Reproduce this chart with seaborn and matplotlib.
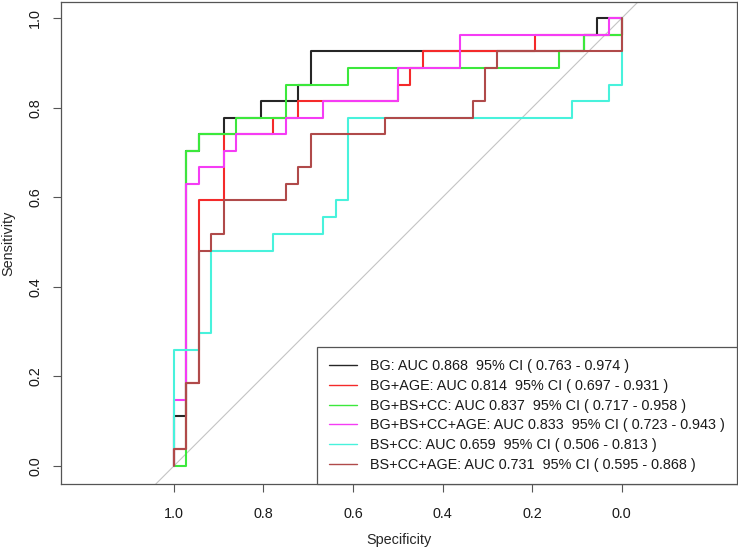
import numpy as np
import pandas as pd
import matplotlib
matplotlib.use("Agg")
import matplotlib.pyplot as plt
import seaborn as sns

# ---- data (specificity, sensitivity vertices) ----
models = ["BG", "BG+AGE", "BG+BS+CC", "BG+BS+CC+AGE", "BS+CC", "BS+CC+AGE"]
auc = [0.868, 0.814, 0.837, 0.833, 0.659, 0.731]
ci_low = [0.763, 0.697, 0.717, 0.723, 0.506, 0.595]
ci_high = [0.974, 0.931, 0.958, 0.943, 0.813, 0.868]
colors = ["#262626", "#F42A2A", "#3CE83C", "#F53CF5", "#48F2DC", "#B04A4A"]

spec_bg = [1.000, 1.000, 0.972, 0.972, 0.944, 0.944, 0.889, 0.889, 0.806, 0.806,
           0.722, 0.722, 0.694, 0.694, 0.083, 0.083, 0.056, 0.056, 0.000]
sens_bg = [0.000, 0.111, 0.111, 0.704, 0.704, 0.741, 0.741, 0.778, 0.778, 0.815,
           0.815, 0.852, 0.852, 0.926, 0.926, 0.963, 0.963, 1.000, 1.000]

spec_bg_age = [1.000, 1.000, 0.972, 0.972, 0.944, 0.944, 0.889, 0.889, 0.778, 0.778, 0.722,
               0.722, 0.500, 0.500, 0.472, 0.472, 0.444, 0.444, 0.194, 0.194, 0.000, 0.000]
sens_bg_age = [0.000, 0.037, 0.037, 0.185, 0.185, 0.593, 0.593, 0.741, 0.741, 0.778, 0.778,
               0.815, 0.815, 0.852, 0.852, 0.889, 0.889, 0.926, 0.926, 0.963, 0.963, 1.000]

spec_bg_bs_cc = [1.000, 0.972, 0.972, 0.944, 0.944, 0.861, 0.861, 0.750, 0.750,
                 0.611, 0.611, 0.139, 0.139, 0.083, 0.083, 0.000, 0.000]
sens_bg_bs_cc = [0.000, 0.000, 0.704, 0.704, 0.741, 0.741, 0.778, 0.778, 0.852,
                 0.852, 0.889, 0.889, 0.926, 0.926, 0.963, 0.963, 1.000]

spec_bg_bs_cc_age = [1.000, 1.000, 0.972, 0.972, 0.944, 0.944, 0.889, 0.889, 0.861, 0.861, 0.750,
                     0.750, 0.667, 0.667, 0.500, 0.500, 0.361, 0.361, 0.028, 0.028, 0.000]
sens_bg_bs_cc_age = [0.000, 0.148, 0.148, 0.630, 0.630, 0.667, 0.667, 0.704, 0.704, 0.741, 0.741,
                     0.778, 0.778, 0.815, 0.815, 0.889, 0.889, 0.963, 0.963, 1.000, 1.000]

spec_bs_cc = [1.000, 1.000, 0.944, 0.944, 0.917, 0.917, 0.778, 0.778, 0.667, 0.667,
              0.639, 0.639, 0.611, 0.611, 0.111, 0.111, 0.028, 0.028, 0.000, 0.000]
sens_bs_cc = [0.000, 0.259, 0.259, 0.296, 0.296, 0.481, 0.481, 0.519, 0.519, 0.556,
              0.556, 0.593, 0.593, 0.778, 0.778, 0.815, 0.815, 0.852, 0.852, 1.000]

spec_bs_cc_age = [1.000, 1.000, 0.972, 0.972, 0.944, 0.944, 0.917, 0.917, 0.889, 0.889, 0.750, 0.750, 0.722,
                  0.722, 0.694, 0.694, 0.528, 0.528, 0.333, 0.333, 0.306, 0.306, 0.278, 0.278, 0.000, 0.000]
sens_bs_cc_age = [0.000, 0.037, 0.037, 0.185, 0.185, 0.481, 0.481, 0.519, 0.519, 0.593, 0.593, 0.630, 0.630,
                  0.667, 0.667, 0.741, 0.741, 0.778, 0.778, 0.815, 0.815, 0.889, 0.889, 0.926, 0.926, 1.000]

specs = [spec_bg, spec_bg_age, spec_bg_bs_cc, spec_bg_bs_cc_age, spec_bs_cc, spec_bs_cc_age]
senss = [sens_bg, sens_bg_age, sens_bg_bs_cc, sens_bg_bs_cc_age, sens_bs_cc, sens_bs_cc_age]

labels = [f"{m}: AUC {a:.3f}  95% CI ( {lo:.3f} - {hi:.3f} )"
          for m, a, lo, hi in zip(models, auc, ci_low, ci_high)]

frames = []
for lab, sp, se in zip(labels, specs, senss):
    frames.append(pd.DataFrame({"Specificity": sp, "Sensitivity": se,
                                "model": lab, "order": np.arange(len(sp))}))
df = pd.concat(frames, ignore_index=True)

# ---- style ----
sns.set_style("white")
plt.rcParams["font.family"] = ["Liberation Sans", "DejaVu Sans"]
plt.rcParams["text.color"] = "#1a1a1a"

fig = plt.figure(figsize=(7.38, 5.47), dpi=100)
ax = fig.add_axes([0.0827, 0.1146, 0.9156, 0.8823])

ax.set_xlim(1.252, -0.257)
ax.set_ylim(-0.041, 1.037)

# chance diagonal
ax.axline((1.0, 0.0), (0.0, 1.0), color="#c4c4c4", lw=0.8, zorder=1)

sns.lineplot(data=df, x="Specificity", y="Sensitivity", hue="model",
             hue_order=labels, palette=dict(zip(labels, colors)),
             sort=False, estimator=None, units="model", lw=1.5, ax=ax, zorder=2)

ax.set_xticks([1.0, 0.8, 0.6, 0.4, 0.2, 0.0])
ax.set_xticklabels(["1.0", "0.8", "0.6", "0.4", "0.2", "0.0"])
ax.set_yticks([0.0, 0.2, 0.4, 0.6, 0.8, 1.0])
ax.set_yticklabels(["0.0", "0.2", "0.4", "0.6", "0.8", "1.0"], rotation=90, va="center")

ax.tick_params(axis="both", which="both", direction="out", length=6, width=0.8,
               color="#555555", labelsize=10.4, labelcolor="#1a1a1a",
               bottom=True, left=True)
ax.tick_params(axis="x", pad=10)
ax.tick_params(axis="y", pad=7.5)

for s in ax.spines.values():
    s.set_color("#555555")
    s.set_linewidth(0.9)

ax.set_xlabel("Specificity", fontsize=10.4, labelpad=9)
ax.set_ylabel("Sensitivity", fontsize=10.4, labelpad=9)

leg = ax.legend(loc="lower right", bbox_to_anchor=(1.0, 0.0), borderaxespad=0.0,
                fontsize=10.4, frameon=True, fancybox=False, framealpha=1,
                edgecolor="#555555", handlelength=1.9, handletextpad=0.9,
                labelspacing=0.4, borderpad=0.85, title=None)
leg.get_frame().set_linewidth(0.9)
for ln in leg.get_lines():
    ln.set_linewidth(1.0)

fig.savefig("out.png", dpi=100)
